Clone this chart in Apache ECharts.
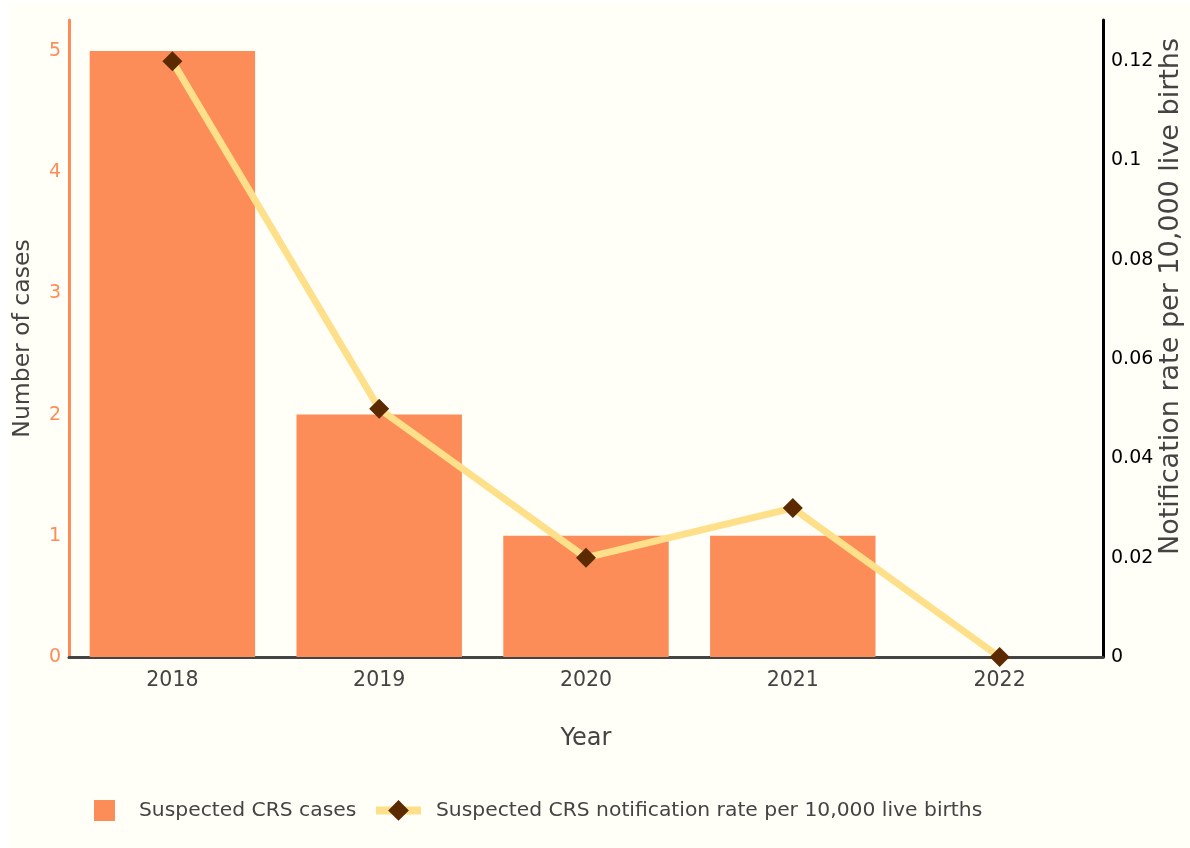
<!DOCTYPE html>
<html>
<head>
<meta charset="utf-8">
<script src="https://cdn.jsdelivr.net/npm/echarts@6/dist/echarts.min.js"></script>
<style>
  html, body { margin: 0; padding: 0; background: #ffffff; }
  #chart { position: absolute; left: 9px; top: 3px; width: 1181px; height: 845px; background: #fffef7; }
</style>
</head>
<body>
<div id="chart"></div>
<script>
// Suspected congenital rubella syndrome (CRS), by year
const years = ['2018', '2019', '2020', '2021', '2022'];
const suspectedCases = [5, 2, 1, 1, 0];
const notificationRate = [0.12, 0.05, 0.02, 0.03, 0];

const casesName = 'Suspected CRS cases';
const rateName = 'Suspected CRS notification rate per 10,000 live births';

const FONT = '"DejaVu Sans", Verdana, sans-serif';
const ORANGE = '#fc8d59';
const GOLD = '#fee08b';
const BROWN = '#5c2a00';
const GREY = '#444444';

const chart = echarts.init(document.getElementById('chart'));
chart.setOption({
  animation: false,
  backgroundColor: '#fffef7',
  textStyle: { fontFamily: FONT },
  grid: { left: 60, right: 87, top: 17, bottom: 191, containLabel: false, outerBoundsMode: 'none' },
  legend: [
    {
      data: [casesName],
      left: 80, top: 792,
      icon: 'rect',
      itemWidth: 21, itemHeight: 21,
      textStyle: { color: GREY, fontSize: 20.3, fontFamily: FONT, padding: [0, 0, 0, 19] }
    },
    {
      data: [rateName],
      left: 358, top: 792,
      itemWidth: 45, itemHeight: 26,
      lineStyle: { width: 8 },
      textStyle: { color: GREY, fontSize: 20.3, fontFamily: FONT, padding: [0, 0, 0, 10] }
    }
  ],
  xAxis: {
    type: 'category',
    data: years,
    name: 'Year',
    nameLocation: 'middle',
    nameGap: 70,
    nameMoveOverlap: false,
    nameTextStyle: { color: GREY, fontSize: 24, fontFamily: FONT },
    axisLine: { show: true, lineStyle: { color: GREY, width: 3 } },
    axisTick: { show: false },
    axisLabel: { color: GREY, fontSize: 20.5, margin: 13, fontFamily: FONT },
    splitLine: { show: false }
  },
  yAxis: [
    {
      type: 'value',
      min: 0, max: 5.256, interval: 1,
      name: 'Number of cases',
      nameLocation: 'middle',
      nameRotate: 90,
      nameGap: 34,
      nameMoveOverlap: false,
      nameTextStyle: { color: GREY, fontSize: 23.5, fontFamily: FONT },
      axisLine: { show: true, lineStyle: { color: ORANGE, width: 3 } },
      axisTick: { show: false },
      axisLabel: { color: ORANGE, fontSize: 19, margin: 8, showMaxLabel: false, fontFamily: FONT },
      splitLine: { show: false }
    },
    {
      type: 'value',
      position: 'right',
      min: 0, max: 0.1283, interval: 0.02,
      name: 'Notification rate per 10,000 live births',
      nameLocation: 'middle',
      nameRotate: 90,
      nameGap: 54,
      nameMoveOverlap: false,
      nameTextStyle: { color: GREY, fontSize: 27, fontFamily: FONT, padding: [0, 0, 0, 84] },
      axisLine: { show: true, lineStyle: { color: '#000000', width: 3 } },
      axisTick: { show: false },
      axisLabel: { color: '#000000', fontSize: 19, margin: 8, showMaxLabel: false, fontFamily: FONT },
      splitLine: { show: false }
    }
  ],
  series: [
    {
      name: casesName,
      type: 'bar',
      data: suspectedCases,
      yAxisIndex: 0,
      barWidth: '80%',
      itemStyle: { color: ORANGE },
      z: 1
    },
    {
      name: rateName,
      type: 'line',
      data: notificationRate,
      yAxisIndex: 1,
      symbol: 'diamond',
      symbolSize: 20,
      itemStyle: { color: BROWN },
      lineStyle: { color: GOLD, width: 7 },
      z: 3
    }
  ]
});
</script>
</body>
</html>
